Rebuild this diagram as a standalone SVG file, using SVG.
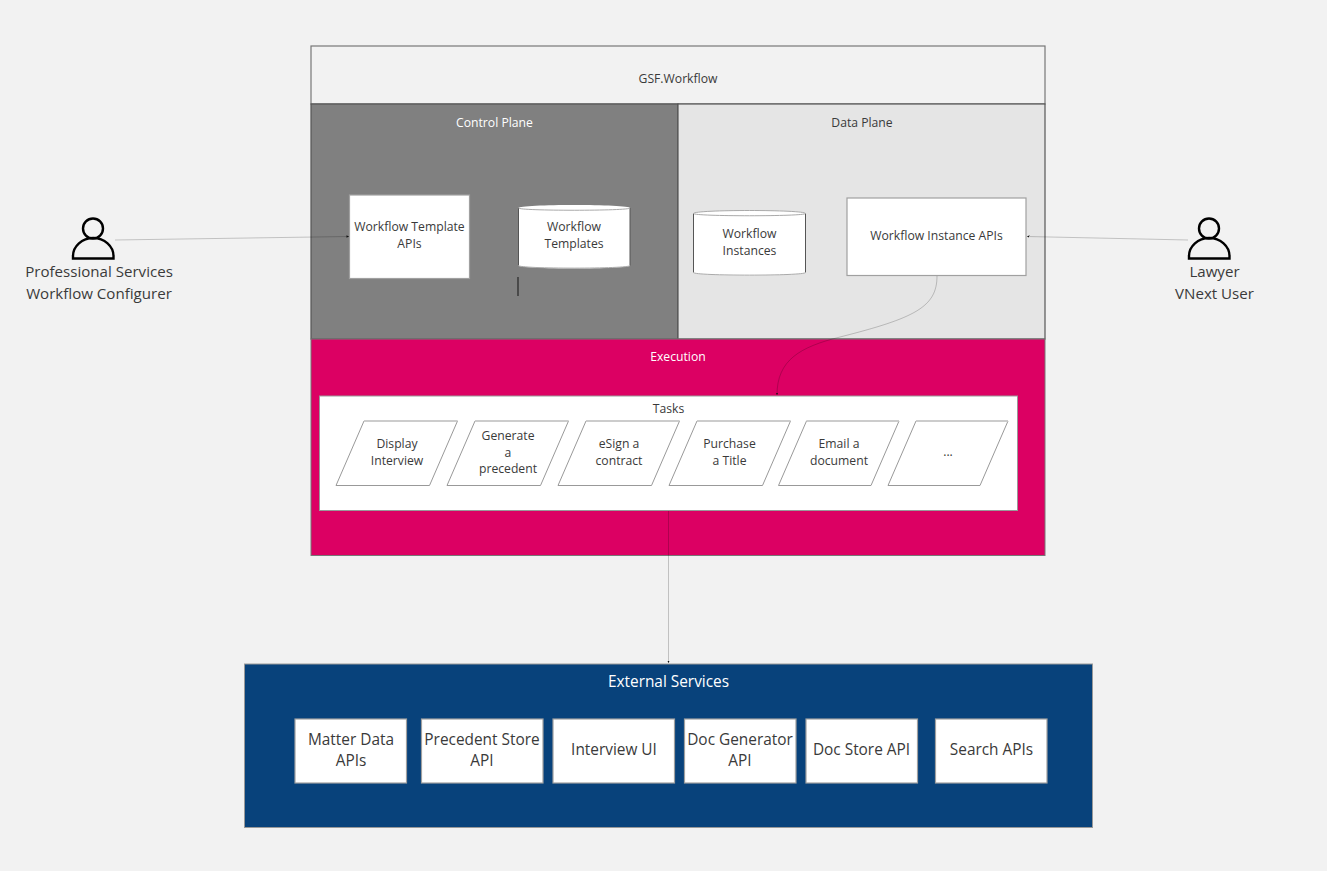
<svg xmlns="http://www.w3.org/2000/svg" width="1327" height="871" viewBox="0 0 1327 871">
<style>
text{font-family:"Open Sans","Noto Sans",sans-serif;fill:#3a3a3a;text-anchor:middle}
.s{font-size:12.2px}
.m{font-size:15.4px}
.a{font-size:15.1px}
.w{fill:#fff}
.box{fill:#fff;stroke:#a0a0a0;stroke-width:1.2}
.pf{fill:#fff;stroke:#999;stroke-width:1}
.pt{fill:none;stroke:#ccc;stroke-width:1.6}
.cyl{fill:#fff;stroke:none}
.cs{fill:none;stroke:#555;stroke-width:1}
.ce{fill:none;stroke:#aaa;stroke-width:1}
.act{fill:none;stroke:#000;stroke-width:2.4}
.c{fill:none;stroke:#000;stroke-opacity:.2;stroke-width:1}
</style>
<defs>
<marker id="a" markerWidth="3" markerHeight="4" refX="2.500" refY="2" orient="auto" markerUnits="userSpaceOnUse"><path d="M0 0.800L2.500 2L0 3.200Z" fill="#111"/></marker>
</defs>
<rect width="1327" height="871" fill="#f2f2f2"/>
<g id="workflow">
<rect x="311" y="46" width="734" height="58" fill="#f2f2f2" stroke="#777" stroke-width="1.2"/>
<text class="s" x="678" y="83">GSF.Workflow</text>
</g>
<g id="control-plane">
<rect x="311" y="104" width="367" height="235" fill="#808080" stroke="#555" stroke-width="1.2"/>
<text class="s w" x="494.500" y="127">Control Plane</text>
</g>
<g id="data-plane">
<rect x="678" y="104" width="367" height="235" fill="#e5e5e5" stroke="#555" stroke-width="1.2"/>
<text class="s" x="862" y="127">Data Plane</text>
</g>
<g id="execution">
<rect x="311" y="339" width="734" height="216.500" fill="#dc0063" stroke="#777" stroke-width="1"/>
<text class="s w" x="678" y="361">Execution</text>
</g>
<g id="tasks">
<rect x="319.500" y="396" width="698" height="114.500" fill="#fff" stroke="#999" stroke-width="1"/>
<text class="s" x="668.500" y="413">Tasks</text>
</g>
<g id="workflow-template-apis">
<rect class="box" x="349.500" y="195" width="120" height="83.500"/>
<text class="s" x="409.500" y="231">Workflow Template</text>
<text class="s" x="409.500" y="248">APIs</text>
</g>
<g id="workflow-templates">
<path class="cyl" d="M518.500 208C518.500 204 630 204 630 208V265.500C630 269.500 518.500 269.500 518.500 265.500Z"/>
<path class="cs" d="M518.500 208V265.500M630 208V265.500"/>
<path class="ce" d="M518.500 208C518.500 211 630 211 630 208M518.500 265.500C518.500 269 630 269 630 265.500"/>
<text class="s" x="574" y="231">Workflow</text>
<text class="s" x="574" y="248">Templates</text>
</g>
<path id="cursor-mark" d="M518 277V296" stroke="#333" stroke-width="1.4" fill="none"/>
<g id="workflow-instances">
<path class="cyl" d="M693.500 213.500C693.500 209.500 805.500 209.500 805.500 213.500V272.500C805.500 276.500 693.500 276.500 693.500 272.500Z"/>
<path class="cs" d="M693.500 213.500V272.500M805.500 213.500V272.500"/>
<path class="ce" d="M693.500 213.500C693.500 216.500 805.500 216.500 805.500 213.500C805.500 209.500 693.500 209.500 693.500 213.500M693.500 272.500C693.500 276 805.500 276 805.500 272.500"/>
<text class="s" x="749.500" y="238">Workflow</text>
<text class="s" x="749.500" y="255">Instances</text>
</g>
<g id="workflow-instance-apis">
<rect class="box" x="847" y="198" width="179" height="77.500"/>
<text class="s" x="936.500" y="240">Workflow Instance APIs</text>
</g>
<g id="display-interview">
<path class="pf" d="M364 421H457.500L429.500 485.500H336Z"/>
<path class="pt" d="M364 421H457.500"/>
<text class="s" x="397" y="448">Display</text><text class="s" x="397" y="465">Interview</text>
</g>
<g id="generate-precedent">
<path class="pf" d="M475 421H568.500L540.500 485.500H447Z"/>
<path class="pt" d="M475 421H568.500"/>
<text class="s" x="508" y="440">Generate</text><text class="s" x="508" y="456.500">a</text><text class="s" x="508" y="473">precedent</text>
</g>
<g id="esign-contract">
<path class="pf" d="M586 421H679.500L651.500 485.500H558Z"/>
<path class="pt" d="M586 421H679.500"/>
<text class="s" x="619" y="448">eSign a</text><text class="s" x="619" y="465">contract</text>
</g>
<g id="purchase-title">
<path class="pf" d="M697 421H790.500L762.500 485.500H669Z"/>
<path class="pt" d="M697 421H790.500"/>
<text class="s" x="729.500" y="448">Purchase</text><text class="s" x="729.500" y="465">a Title</text>
</g>
<g id="email-document">
<path class="pf" d="M806.500 421H899L871 485.500H778.500Z"/>
<path class="pt" d="M806.500 421H899"/>
<text class="s" x="839" y="448">Email a</text><text class="s" x="839" y="465">document</text>
</g>
<g id="more-tasks">
<path class="pf" d="M916 421H1008L980 485.500H888Z"/>
<path class="pt" d="M916 421H1008"/>
<text class="s" x="948" y="456">...</text>
</g>
<g id="external-services">
<rect x="244.500" y="664" width="848" height="163.500" fill="#08427b" stroke="#999" stroke-width="1"/>
<text class="m w" x="668.500" y="686.500" style="fill:#fff">External Services</text>
</g>
<g id="matter-data-apis">
<rect class="box" x="295" y="719" width="111.500" height="64"/>
<text class="m" x="351" y="745">Matter Data</text><text class="m" x="351" y="766">APIs</text>
</g>
<g id="precedent-store-api">
<rect class="box" x="421.500" y="719" width="121.500" height="64"/>
<text class="m" x="482" y="745">Precedent Store</text><text class="m" x="482" y="766">API</text>
</g>
<g id="interview-ui">
<rect class="box" x="553" y="719" width="121.500" height="64"/>
<text class="m" x="614" y="755">Interview UI</text>
</g>
<g id="doc-generator-api">
<rect class="box" x="684.500" y="719" width="111.500" height="64"/>
<text class="m" x="740" y="745">Doc Generator</text><text class="m" x="740" y="766">API</text>
</g>
<g id="doc-store-api">
<rect class="box" x="806" y="719" width="111.500" height="64"/>
<text class="m" x="861.500" y="755">Doc Store API</text>
</g>
<g id="search-apis">
<rect class="box" x="935.500" y="719" width="111.500" height="64"/>
<text class="m" x="991.500" y="755">Search APIs</text>
</g>
<g id="professional-services">
<circle class="act" cx="93" cy="228.500" r="10"/>
<path class="act" d="M73 258.500V256A20.250 18 0 0 1 113.500 256V258.500Z"/>
<text class="a" x="99" y="277">Professional Services</text>
<text class="a" x="99" y="299">Workflow Configurer</text>
</g>
<g id="lawyer">
<circle class="act" cx="1209" cy="228.500" r="10"/>
<path class="act" d="M1189 258.500V256A20.250 18 0 0 1 1229.500 256V258.500Z"/>
<text class="a" x="1214.500" y="277">Lawyer</text>
<text class="a" x="1214.500" y="299">VNext User</text>
</g>
<g id="connectors">
<path class="c" marker-end="url(#a)" d="M115 240L349 236.500"/>
<path class="c" marker-end="url(#a)" d="M1188 240L1027 236.500"/>
<path class="c" marker-end="url(#a)" d="M937 276C937 307 915 318 840 337C800 347 777 360 777 395"/>
<path class="c" marker-end="url(#a)" d="M668.500 511V663"/>
</g>
</svg>
